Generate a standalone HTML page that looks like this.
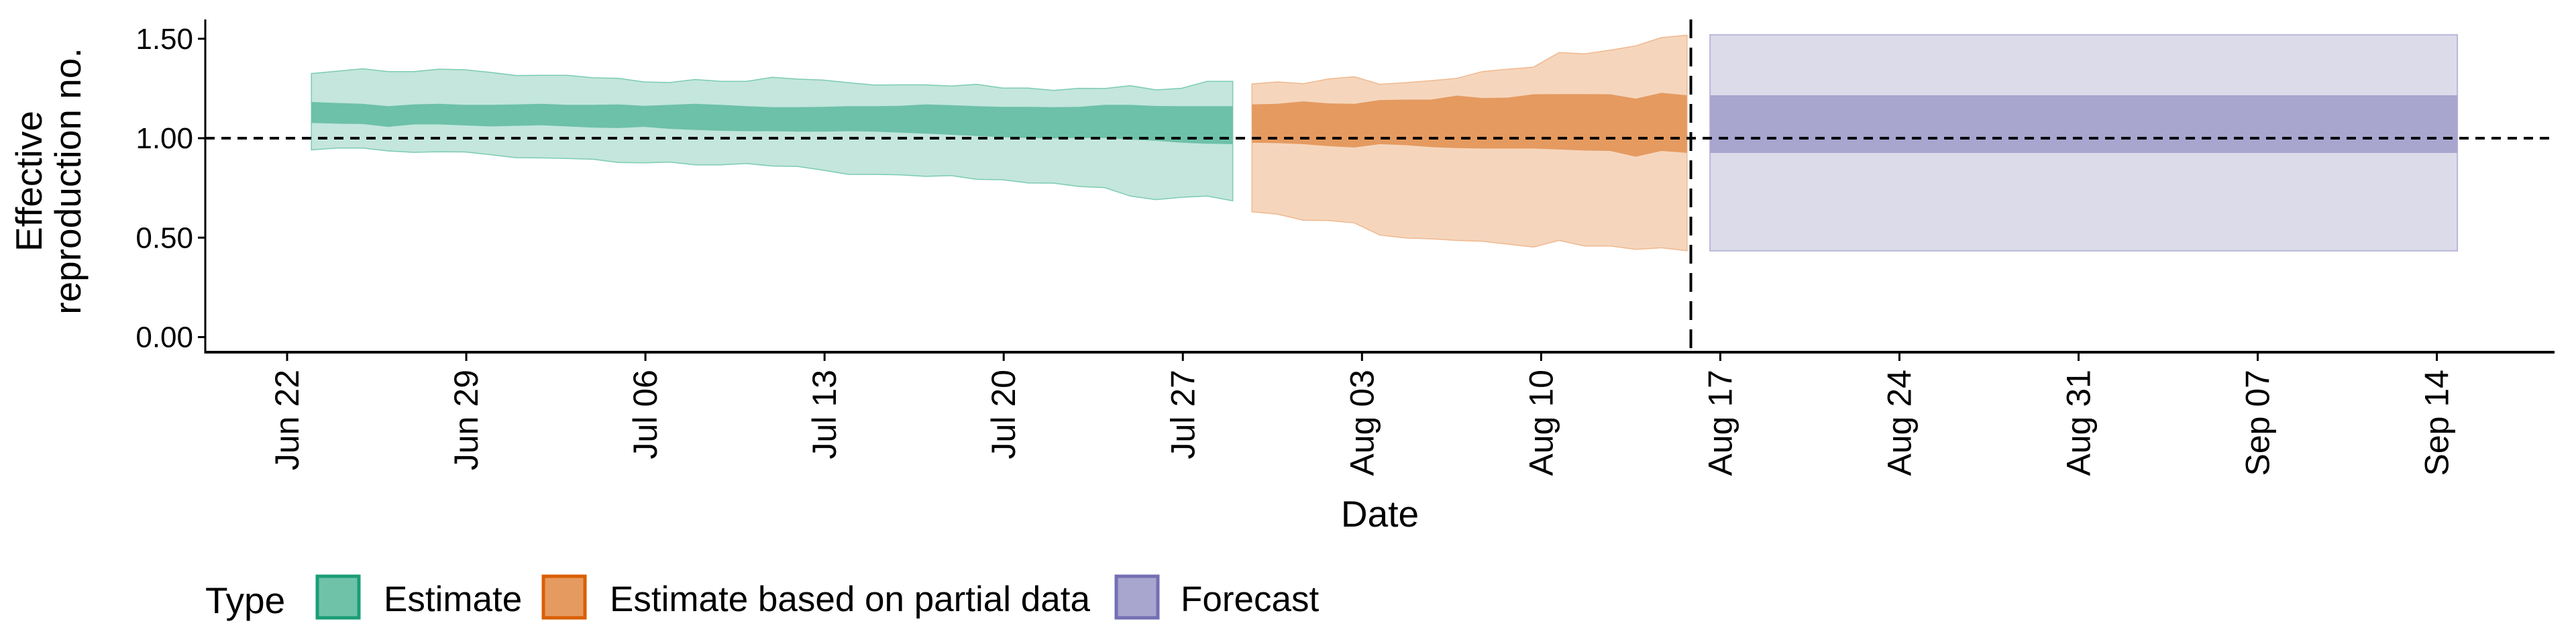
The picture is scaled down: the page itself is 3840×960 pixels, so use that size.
<!DOCTYPE html>
<html><head><meta charset="utf-8"><style>
html,body{margin:0;padding:0;background:#fff;width:3840px;height:960px;overflow:hidden}
svg{display:block;font-family:"Liberation Sans",sans-serif}
</style></head><body>
<svg id="chart" width="3840" height="960" viewBox="0 0 3840 960" xmlns="http://www.w3.org/2000/svg">
<g id="bands"></g>
<g id="axes"></g>
<g>
<text x="306" y="914" font-size="55">Type</text>
<rect x="473" y="859" width="62" height="62" fill="#6fc2a8" stroke="#1b9e77" stroke-width="5"/>
<text x="572" y="911" font-size="53">Estimate</text>
<rect x="810" y="859" width="62" height="62" fill="#e59a60" stroke="#d95f02" stroke-width="5"/>
<text x="909" y="911" font-size="53">Estimate based on partial data</text>
<rect x="1664" y="859" width="62" height="62" fill="#a8a5cf" stroke="#7570b3" stroke-width="5"/>
<text x="1760" y="911" font-size="53">Forecast</text>
</g>
</svg>
<script>
const tickLabels = ["Jun 22","Jun 29","Jul 06","Jul 13","Jul 20","Jul 27","Aug 03","Aug 10","Aug 17","Aug 24","Aug 31","Sep 07","Sep 14"];
const tickDays = [0,7,14,21,28,35,42,49,56,63,70,77,84];
const yTicks = [0,0.5,1.0,1.5];
const yTickLabels = ["0.00","0.50","1.00","1.50"];
const estStart = 0.95;
const estUpper90 = [1.325,1.337,1.349,1.335,1.335,1.347,1.344,1.331,1.315,1.316,1.316,1.304,1.301,1.283,1.280,1.295,1.286,1.286,1.306,1.297,1.292,1.279,1.267,1.268,1.268,1.262,1.271,1.252,1.252,1.240,1.251,1.250,1.264,1.243,1.251,1.286,1.286];
const estLower90 = [0.941,0.950,0.950,0.936,0.929,0.932,0.931,0.917,0.902,0.901,0.898,0.894,0.878,0.876,0.880,0.866,0.866,0.873,0.860,0.858,0.839,0.818,0.818,0.816,0.808,0.812,0.793,0.791,0.775,0.774,0.757,0.751,0.709,0.691,0.703,0.709,0.685];
const estUpper50 = [1.182,1.177,1.173,1.161,1.170,1.173,1.168,1.168,1.170,1.173,1.168,1.168,1.170,1.163,1.168,1.173,1.168,1.161,1.156,1.156,1.158,1.161,1.161,1.163,1.170,1.166,1.161,1.158,1.158,1.156,1.158,1.168,1.168,1.162,1.161,1.161,1.161];
const estLower50 = [1.077,1.073,1.071,1.057,1.069,1.069,1.064,1.059,1.062,1.065,1.059,1.053,1.051,1.057,1.047,1.041,1.037,1.035,1.035,1.033,1.033,1.035,1.033,1.028,1.023,1.017,1.011,1.005,1.001,0.999,1.001,1.001,0.993,0.987,0.977,0.972,0.970];
const partStart = 37.7;
const partUpper90 = [1.273,1.283,1.274,1.298,1.309,1.271,1.279,1.289,1.301,1.335,1.347,1.357,1.431,1.424,1.443,1.464,1.506,1.518];
const partUpper50 = [1.170,1.173,1.185,1.175,1.173,1.192,1.194,1.194,1.214,1.202,1.204,1.221,1.222,1.222,1.221,1.199,1.228,1.216];
const partLower50 = [0.977,0.975,0.970,0.960,0.953,0.970,0.965,0.955,0.950,0.948,0.948,0.948,0.943,0.938,0.936,0.907,0.936,0.926];
const partLower90 = [0.630,0.618,0.588,0.586,0.574,0.513,0.498,0.494,0.486,0.482,0.467,0.453,0.486,0.458,0.458,0.441,0.449,0.434];
const fcDays = [55.6,84.8];
const fcUpper90 = [1.52,1.52];
const fcUpper50 = [1.216,1.216];
const fcLower50 = [0.926,0.926];
const fcLower90 = [0.434,0.434];
const dataCutoffDay = 54.85;

const X0=428, PXD=38.15, Y0=502.5, PXV=296.5;
const AXL=306, AXB=525, AXT=29, AXR=3808;
function x(d){return X0+d*PXD;}
function y(v){return Y0-v*PXV;}
const NS="http://www.w3.org/2000/svg";
function mk(tag,attrs,parent){const e=document.createElementNS(NS,tag);for(const k in attrs)e.setAttribute(k,attrs[k]);parent.appendChild(e);return e;}
const bands=document.getElementById('bands'), axes=document.getElementById('axes');
function band(start,up,lo,fill,stroke,name){
  const days=up.map((_,i)=>start+i);
  let p=days.map((d,i)=>(i?'L':'M')+x(d).toFixed(1)+','+y(up[i]).toFixed(1)).join('');
  for(let i=days.length-1;i>=0;i--)p+='L'+x(days[i]).toFixed(1)+','+y(lo[i]).toFixed(1);
  const e=mk('path',{d:p+'Z',fill:fill,stroke:stroke||'none','stroke-width':stroke?1.5:0},bands);
  
  
}
band(estStart,estUpper90,estLower90,'#c4e6dc','#7ccbb3','estimate-90-band');
band(estStart,estUpper50,estLower50,'#6dc1a8',null,'estimate-50-band');
band(partStart,partUpper90,partLower90,'#f5d6bd','#f0b88e','partial-90-band');
band(partStart,partUpper50,partLower50,'#e59a60',null,'partial-50-band');
function bandXY(days,up,lo,fill,stroke,name){
  let p='M'+x(days[0])+','+y(up[0])+'L'+x(days[1])+','+y(up[1])+'L'+x(days[1])+','+y(lo[1])+'L'+x(days[0])+','+y(lo[0])+'Z';
  const e=mk('path',{d:p,fill:fill,stroke:stroke||'none','stroke-width':stroke?2:0},bands);
  
  
}
bandXY(fcDays,fcUpper90,fcLower90,'#dcdbea','#b9b7d8','forecast-90-band');
bandXY(fcDays,fcUpper50,fcLower50,'#a8a5cf',null,'forecast-50-band');

let e=mk('line',{x1:AXL,x2:AXR,y1:y(1),y2:y(1),stroke:'#000','stroke-width':4,'stroke-dasharray':'14 10'},axes);


e=mk('line',{x1:x(dataCutoffDay),x2:x(dataCutoffDay),y1:AXT,y2:AXB,stroke:'#000','stroke-width':4,'stroke-dasharray':'28 14'},axes);


e=mk('line',{x1:AXL,x2:AXL,y1:AXT,y2:AXB+2,stroke:'#000','stroke-width':3},axes);


e=mk('line',{x1:AXL-1,x2:AXR,y1:AXB,y2:AXB,stroke:'#000','stroke-width':4},axes);


yTicks.forEach((v,i)=>{
  const t=mk('line',{x1:AXL-11,x2:AXL,y1:y(v),y2:y(v),stroke:'#000','stroke-width':3},axes);
  
  
  const l=mk('text',{x:AXL-18,y:y(v)+15,'text-anchor':'end','font-size':44},axes);
  l.textContent=yTickLabels[i];
  
  
});
tickDays.forEach((d,i)=>{
  const t=mk('line',{x1:x(d),x2:x(d),y1:AXB,y2:AXB+13,stroke:'#000','stroke-width':3},axes);
  
  
  const l=mk('text',{transform:'translate('+(x(d)+17)+','+(AXB+26)+') rotate(-90)','text-anchor':'end','font-size':50},axes);
  l.textContent=tickLabels[i];
  
  
});
e=mk('text',{x:2057,y:785,'text-anchor':'middle','font-size':55},axes);
e.textContent='Date';


e=mk('text',{transform:'translate(0,270) rotate(-90)','text-anchor':'middle','font-size':55},axes);


const t1=mk('tspan',{x:0,y:62},e);t1.textContent='Effective';
const t2=mk('tspan',{x:0,y:120},e);t2.textContent='reproduction no.';
</script>
</body></html>
